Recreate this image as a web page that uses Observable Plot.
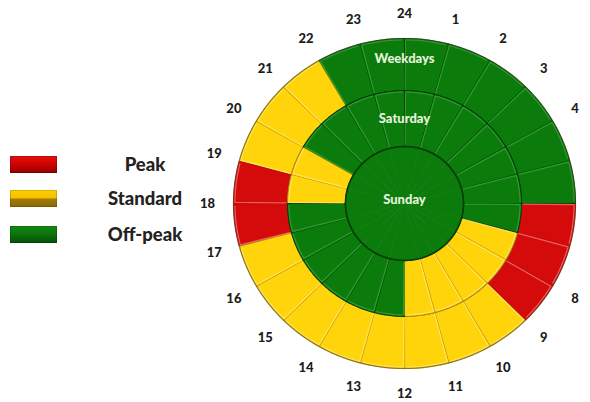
<!DOCTYPE html>
<html><head><meta charset="utf-8">
<script src="https://cdn.jsdelivr.net/npm/d3@7"></script>
<script src="https://cdn.jsdelivr.net/npm/@observablehq/plot@0.6"></script>
<style>
body{margin:0;background:#fff;}
#wrap{position:relative;width:590px;height:402px;overflow:hidden;background:#fff;}
#chart{position:absolute;left:0;top:0;}
.item{position:absolute;left:0;width:200px;height:18px;}
.sw{position:absolute;left:10px;top:0;width:47px;height:17px;box-sizing:border-box;}
.lab{position:absolute;left:95px;width:100px;top:-4px;text-align:center;font-family:Lato,sans-serif;font-weight:900;font-size:18.5px;color:#222;line-height:24px;}
</style></head>
<body><div id="wrap"><div id="chart"></div><div id="legend"></div></div>
<script>
// ---- data ----
const hourLabels = ["24","1","2","3","4","5","6","7","8","9","10","11","12","13","14","15","16","17","18","19","20","21","22","23"];
const categories = ["Peak","Standard","Off-peak"];
const ringNames = ["Weekdays","Saturday","Sunday"];
// category for each hour slot 0-1, 1-2, ... 23-24
const weekdays = ["Off-peak","Off-peak","Off-peak","Off-peak","Off-peak","Off-peak",
  "Peak","Peak","Peak",
  "Standard","Standard","Standard","Standard","Standard","Standard","Standard","Standard",
  "Peak","Peak",
  "Standard","Standard","Standard",
  "Off-peak","Off-peak"];
const saturday = ["Off-peak","Off-peak","Off-peak","Off-peak","Off-peak","Off-peak","Off-peak",
  "Standard","Standard","Standard","Standard","Standard",
  "Off-peak","Off-peak","Off-peak","Off-peak","Off-peak","Off-peak",
  "Standard","Standard",
  "Off-peak","Off-peak","Off-peak","Off-peak"];
const sunday = ["Off-peak","Off-peak","Off-peak","Off-peak","Off-peak","Off-peak","Off-peak","Off-peak",
  "Off-peak","Off-peak","Off-peak","Off-peak","Off-peak","Off-peak","Off-peak","Off-peak",
  "Off-peak","Off-peak","Off-peak","Off-peak","Off-peak","Off-peak","Off-peak","Off-peak"];

// ---- styling ----
const fills = {"Peak":"#d50b0b","Standard":"#ffd40a","Off-peak":"#0b7b0c"};
const edges = {"Peak":"#a30a0a","Standard":"#b08a0c","Off-peak":"#033f06"};
const lights = {"Peak":"#f47a7a","Standard":"#ffe873","Off-peak":"#3fa33f"};
const rings = [
  {name:"Weekdays", r0:0.684, r1:1.0, values:weekdays, labelR:0.875},
  {name:"Saturday", r0:0.345, r1:0.684, values:saturday, labelR:0.515},
  {name:"Sunday", r0:0, r1:0.345, values:sunday, labelR:0.02}
];
const rad = a => a*Math.PI/180;
const pt = (a, r) => ({x: r*Math.sin(rad(a)), y: r*Math.cos(rad(a))});

const cells = [];
const highlights = [];
rings.forEach(ring => ring.values.forEach((cat, h) => {
  const id = ring.name + "-" + h;
  const a0 = h*15, a1 = (h+1)*15;
  const pts = [];
  for (let a = a0; a <= a1 + 1e-9; a += 1) pts.push([a, ring.r1]);
  if (ring.r0 > 0) for (let a = a1; a >= a0 - 1e-9; a -= 1) pts.push([a, ring.r0]);
  else pts.push([0, 0]);
  pts.forEach(([a, r]) => cells.push({id, cat, ring: ring.name, ...pt(a, r)}));
  if (ring.r0 > 0) {
    // light bevel edge just inside the start side and the top side of each cell
    const off = 0.9 / (ring.r1 * 171) * 180 / Math.PI * 1.2;
    const rin = ring.r1 - 0.008;
    highlights.push({id: id+"h", cat, ...pt(a0 + off*ring.r1/ring.r0*0.5, ring.r0 + 0.01)});
    highlights.push({id: id+"h", cat, ...pt(a0 + off, rin)});
    for (let a = a0 + 1; a <= a1 - 0.5; a += 1) highlights.push({id: id+"h", cat, ...pt(a, rin)});
  }
}));

function circle(r, id) {
  const out = [];
  for (let a = 0; a <= 360; a += 1) out.push({id, ...pt(a, r)});
  return out;
}

const labelData = hourLabels.map((t, k) => ({t, ...pt(k*15, 1.152)}));
const ringLabelData = rings.map(r => ({t: r.name, x: 0, y: r.labelR}));

const marks = [];
categories.forEach(cat => {
  marks.push(Plot.line(cells.filter(d => d.cat === cat && d.ring !== "Sunday"),
    {x:"x", y:"y", z:"id", fill: fills[cat], stroke: edges[cat], strokeWidth: 1.1, strokeLinejoin:"round"}));
});
categories.forEach(cat => {
  marks.push(Plot.line(highlights.filter(d => d.cat === cat),
    {x:"x", y:"y", z:"id", stroke: lights[cat], strokeWidth: 1.2, strokeOpacity: 0.75}));
});
marks.push(Plot.line(cells.filter(d => d.ring === "Sunday"),
  {x:"x", y:"y", z:"id", fill: d => fills[d.cat], stroke: d => fills[d.cat], strokeWidth: 1}));
marks.push(Plot.line(circle(0.345, "sun"), {x:"x", y:"y", stroke:"#053d07", strokeWidth:1.6}));
marks.push(Plot.line(circle(1.0, "outer"), {x:"x", y:"y", stroke:"#5a5a30", strokeOpacity:0.4, strokeWidth:1.3}));
marks.push(Plot.text(labelData, {x:"x", y:"y", text:"t", fontSize:13, fontWeight:900, fill:"#1c1c1c"}));
marks.push(Plot.text(ringLabelData, {x:"x", y:"y", text:"t", fontSize:13, fontWeight:900, fill:"#e6f2dc"}));

const chart = Plot.plot({
  width: 590, height: 402,
  marginTop: 0, marginBottom: 0, marginLeft: 0, marginRight: 0,
  x: {domain: [-404/171, 186/171], axis: null},
  y: {domain: [-199/165, 203/165], axis: null},
  style: {fontFamily: "Lato, sans-serif", background: "transparent"},
  marks
});
document.getElementById("chart").appendChild(chart);

// legend
const swatchStyle = {
  "Peak": "linear-gradient(to bottom,#e01010 0%,#cc0000 55%,#8a0000 100%)",
  "Standard": "linear-gradient(to bottom,#ffd000 0%,#f5c000 45%,#a07a06 55%,#8a6a05 100%)",
  "Off-peak": "linear-gradient(to bottom,#108a10 0%,#0b730b 50%,#064e06 100%)"
};
const legendTops = [156, 190, 226];
const lg = document.getElementById("legend");
categories.forEach((cat, i) => {
  const it = document.createElement("div");
  it.className = "item"; it.style.top = legendTops[i] + "px";
  const sw = document.createElement("div");
  sw.className = "sw"; sw.style.background = swatchStyle[cat];
  sw.style.boxShadow = "inset 0 0 0 1px rgba(0,0,0,0.15)";
  const lb = document.createElement("div");
  lb.className = "lab"; lb.textContent = cat;
  it.appendChild(sw); it.appendChild(lb); lg.appendChild(it);
});
</script></body></html>
